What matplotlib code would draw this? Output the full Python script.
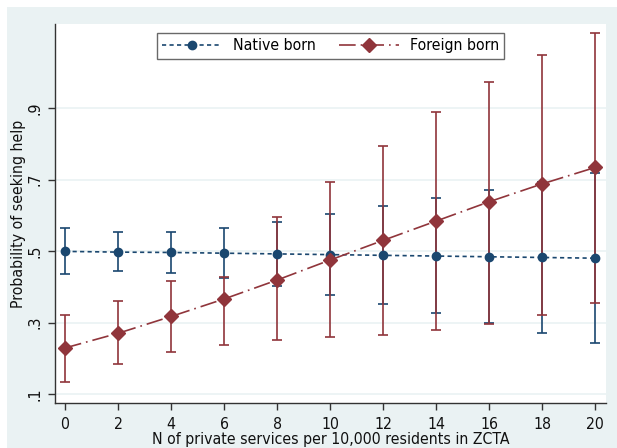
import matplotlib
matplotlib.use("Agg")
import matplotlib.pyplot as plt
from matplotlib.patches import Rectangle

plt.rcParams['font.family'] = ['DejaVu Sans']
plt.rcParams['font.stretch'] = 'condensed'

# DATA
services = [0, 2, 4, 6, 8, 10, 12, 14, 16, 18, 20]

native_mean = [0.499, 0.497, 0.496, 0.494, 0.492, 0.490, 0.488, 0.486, 0.484, 0.482, 0.480]
native_lo = [0.435, 0.443, 0.439, 0.424, 0.402, 0.378, 0.351, 0.326, 0.300, 0.270, 0.243]
native_hi = [0.565, 0.554, 0.554, 0.565, 0.582, 0.604, 0.626, 0.647, 0.670, 0.694, 0.719]

foreign_mean = [0.229, 0.270, 0.317, 0.366, 0.419, 0.475, 0.530, 0.584, 0.638, 0.688, 0.734]
foreign_lo = [0.133, 0.184, 0.219, 0.238, 0.251, 0.259, 0.266, 0.279, 0.297, 0.321, 0.355]
foreign_hi = [0.320, 0.359, 0.416, 0.427, 0.594, 0.694, 0.794, 0.888, 0.974, 1.048, 1.110]

y_ticks = [0.1, 0.3, 0.5, 0.7, 0.9]
y_ticklabels = [".1", ".3", ".5", ".7", ".9"]
x_ticks = list(range(0, 21, 2))

NAVY = "#1A476F"
MAROON = "#90353B"
BG = "#EAF2F3"
FS = 11.3

fig = plt.figure(figsize=(6.17, 4.48), dpi=100, facecolor="white")
fig.patches.append(Rectangle((7 / 617, 0), 1, 1 - 7 / 448, transform=fig.transFigure,
                             facecolor=BG, edgecolor="none", zorder=-10))

ax = fig.add_axes([55 / 617, 45 / 448, 551 / 617, 379 / 448])
ax.set_facecolor("white")

# confidence intervals
n_err = [[m - l for m, l in zip(native_mean, native_lo)],
         [h - m for m, h in zip(native_mean, native_hi)]]
f_err = [[m - l for m, l in zip(foreign_mean, foreign_lo)],
         [h - m for m, h in zip(foreign_mean, foreign_hi)]]
ax.errorbar(services, native_mean, yerr=n_err, fmt="none", ecolor=NAVY,
            elinewidth=1.2, capsize=3.3, capthick=1.2, zorder=2)
ax.errorbar(services, foreign_mean, yerr=f_err, fmt="none", ecolor=MAROON,
            elinewidth=1.2, capsize=3.3, capthick=1.2, zorder=3)

ax.plot(services, native_mean, color=NAVY, lw=1.2, linestyle=(0, (2.5, 2)),
        marker="o", markersize=6, label="Native born", zorder=4)
ax.plot(services, foreign_mean, color=MAROON, lw=1.2, linestyle=(0, (10, 3, 1, 3)),
        marker="D", markersize=7, label="Foreign born", zorder=5)

ax.set_xlim(-0.38, 20.4)
ax.set_ylim(0.075, 1.135)
ax.set_xticks(x_ticks)
ax.set_yticks(y_ticks)
ax.set_yticklabels(y_ticklabels, rotation=90, va="center")
ax.grid(axis="y", color=BG, lw=1.2, zorder=0)
ax.set_axisbelow(True)

for s in ["top", "right"]:
    ax.spines[s].set_visible(False)
for s in ["left", "bottom"]:
    ax.spines[s].set_color("#333333")
    ax.spines[s].set_linewidth(1.0)
ax.tick_params(axis="both", direction="out", length=5, width=1, color="#333333",
               labelsize=FS, labelcolor="#111111")
ax.tick_params(axis="x", pad=5)
ax.tick_params(axis="y", pad=4)

ax.set_xlabel("N of private services per 10,000 residents in ZCTA", fontsize=FS,
              labelpad=0, color="#111111")
ax.set_ylabel("Probability of seeking help", fontsize=FS, labelpad=1, color="#111111")

leg = ax.legend(loc="upper center", bbox_to_anchor=(0.5, 0.985), ncol=2, fontsize=FS,
                frameon=True, fancybox=False, edgecolor="#444444", handlelength=3.8,
                columnspacing=1.5, borderpad=0.35, handletextpad=0.7, borderaxespad=0.2)
leg.get_frame().set_linewidth(1.0)

fig.savefig("out.png", dpi=100, facecolor="white")
